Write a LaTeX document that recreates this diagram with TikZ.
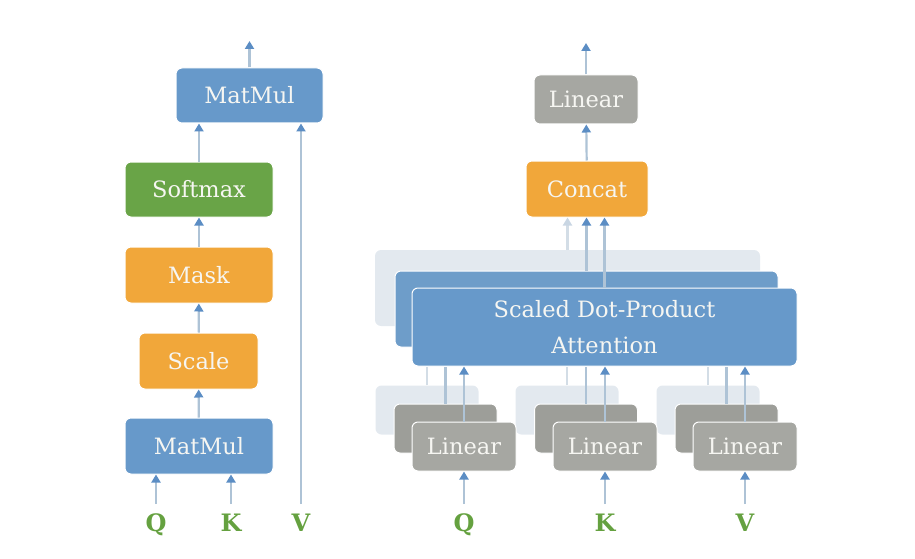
\documentclass[tikz,border=0pt]{standalone}
\usepackage{fontspec}
\setmainfont{DejaVu Serif}
\usetikzlibrary{arrows.meta}
\definecolor{cblue}{HTML}{6799CA}
\definecolor{cblue2}{HTML}{6E9DC9}
\definecolor{corange}{HTML}{F1A73A}
\definecolor{cgreen}{HTML}{69A447}
\definecolor{cgray}{HTML}{A6A7A2}
\definecolor{cgray2}{HTML}{9D9E99}
\definecolor{cfaint}{HTML}{E3E9EF}
\definecolor{ctext}{HTML}{F6F6F2}
\definecolor{cline}{HTML}{AEC3D6}
\definecolor{ctip}{HTML}{5B8DC4}
\definecolor{cfline}{HTML}{D3DDE6}
\definecolor{cftip}{HTML}{C9D6E3}
\definecolor{clabel}{HTML}{65A140}
\tikzset{
  box/.style={rounded corners=6pt, draw=white, line width=1pt, text=ctext,
    font=\fontsize{22.5}{36}\selectfont, inner sep=0pt, align=center},
  bluebox/.style={box, fill=cblue},
  orangebox/.style={box, fill=corange},
  greenbox/.style={box, fill=cgreen},
  graybox/.style={box, fill=cgray},
  midblue/.style={box, fill=cblue2},
  midgray/.style={box, fill=cgray2},
  faintbox/.style={rounded corners=6pt, fill=cfaint, draw=none},
  qkv/.style={text=clabel, font=\fontsize{24}{28}\selectfont\bfseries,
    text height=17pt, text depth=0pt, inner sep=0pt},
  arr/.style={draw=cline, line width=2.2pt, -{Triangle[length=8pt,width=9pt,color=ctip]}},
  plainln/.style={draw=cline, line width=2.2pt},
  faintarr/.style={draw=cfline, line width=2.2pt, -{Triangle[length=8pt,width=9pt,color=cftip]}},
  faintln/.style={draw=cfline, line width=2.2pt},
}
\begin{document}
\begin{tikzpicture}[x=1pt,y=-1pt]
\useasboundingbox (0,0) rectangle (915,559);
% ---------- left: scaled dot-product attention ----------
\node[bluebox, minimum width=147pt, minimum height=55pt] (mmtop) at (249.5,95.5) {MatMul};
\node[greenbox, minimum width=148pt, minimum height=55pt] (soft) at (199,189.5) {Softmax};
\node[orangebox, minimum width=148pt, minimum height=56pt] (mask) at (199,275) {Mask};
\node[orangebox, minimum width=119pt, minimum height=56pt] (scale) at (198.5,361) {Scale};
\node[bluebox, minimum width=148pt, minimum height=56pt] (mmbot) at (199,446) {MatMul};
\node[qkv] (lq) at (156,523) {Q};
\node[qkv] (lk) at (231,523) {K};
\node[qkv] (lv) at (301,523) {V};
\coordinate (lqin) at (156,504);
\coordinate (lkin) at (231,504);
\coordinate (lvin) at (301,504);
\coordinate (lout) at (249.5,41);
\draw[arr] (lqin) -- (lqin |- mmbot.south);
\draw[arr] (lkin) -- (lkin |- mmbot.south);
\draw[arr] (lvin) -- (lvin |- mmtop.south);
\draw[arr] (mmbot) -- (scale);
\draw[arr] (scale) -- (mask);
\draw[arr] (mask) -- (soft);
\draw[arr] (soft.north) -- (soft.north |- mmtop.south);
\draw[arr] (mmtop) -- (lout);
% ---------- right: multi-head attention ----------
\node[graybox, minimum width=104pt, minimum height=49pt] (lin) at (586,99.5) {Linear};
\node[orangebox, minimum width=122pt, minimum height=56pt] (concat) at (587,189) {Concat};
\coordinate (rout) at (586,43);
\draw[arr] (lin) -- (rout);
\draw[arr] (concat) -- (lin);
% back layers
\node[faintbox, minimum width=385pt, minimum height=76pt] (sdpa3) at (567.5,288) {};
\node[faintbox, minimum width=103pt, minimum height=49pt] (lq3) at (427,410) {};
\node[faintbox, minimum width=103pt, minimum height=49pt] (lk3) at (567,410) {};
\node[faintbox, minimum width=103pt, minimum height=49pt] (lv3) at (708,410) {};
\draw[faintarr] (sdpa3.north) -- (sdpa3.north |- concat.south);
% middle layers
\node[midblue, minimum width=383pt, minimum height=76pt] (sdpa2) at (586.5,309) {};
\node[midgray, minimum width=103pt, minimum height=49pt] (lq2) at (445.5,428.5) {};
\node[midgray, minimum width=103pt, minimum height=49pt] (lk2) at (586,428.5) {};
\node[midgray, minimum width=103pt, minimum height=49pt] (lv2) at (726.5,428.5) {};
\draw[arr] (sdpa2.north) -- (sdpa2.north |- concat.south);
% front layers
\node[bluebox, minimum width=385pt, minimum height=78pt] (sdpa1) at (604.5,327) {Scaled Dot-Product\\Attention};
\node[graybox, minimum width=104pt, minimum height=49pt] (lq1) at (464,446.5) {Linear};
\node[graybox, minimum width=104pt, minimum height=49pt] (lk1) at (605,446.5) {Linear};
\node[graybox, minimum width=104pt, minimum height=49pt] (lv1) at (745,446.5) {Linear};
\draw[arr] (sdpa1.north) -- (sdpa1.north |- concat.south);
% linear -> attention
\foreach \g in {q,k,v}{
  \draw[faintln] (l\g3.north) -- (l\g3.north |- sdpa1.south);
  \draw[plainln] (l\g2.north) -- (l\g2.north |- sdpa1.south);
  \draw[arr] (l\g1.north) -- (l\g1.north |- sdpa1.south);
}
% inputs
\node[qkv] (rq) at (464,523) {Q};
\node[qkv] (rk) at (605,523) {K};
\node[qkv] (rv) at (745,523) {V};
\coordinate (rqin) at (464,504);
\coordinate (rkin) at (605,504);
\coordinate (rvin) at (745,504);
\draw[arr] (rqin) -- (lq1);
\draw[arr] (rkin) -- (lk1);
\draw[arr] (rvin) -- (lv1);
\end{tikzpicture}
\end{document}
